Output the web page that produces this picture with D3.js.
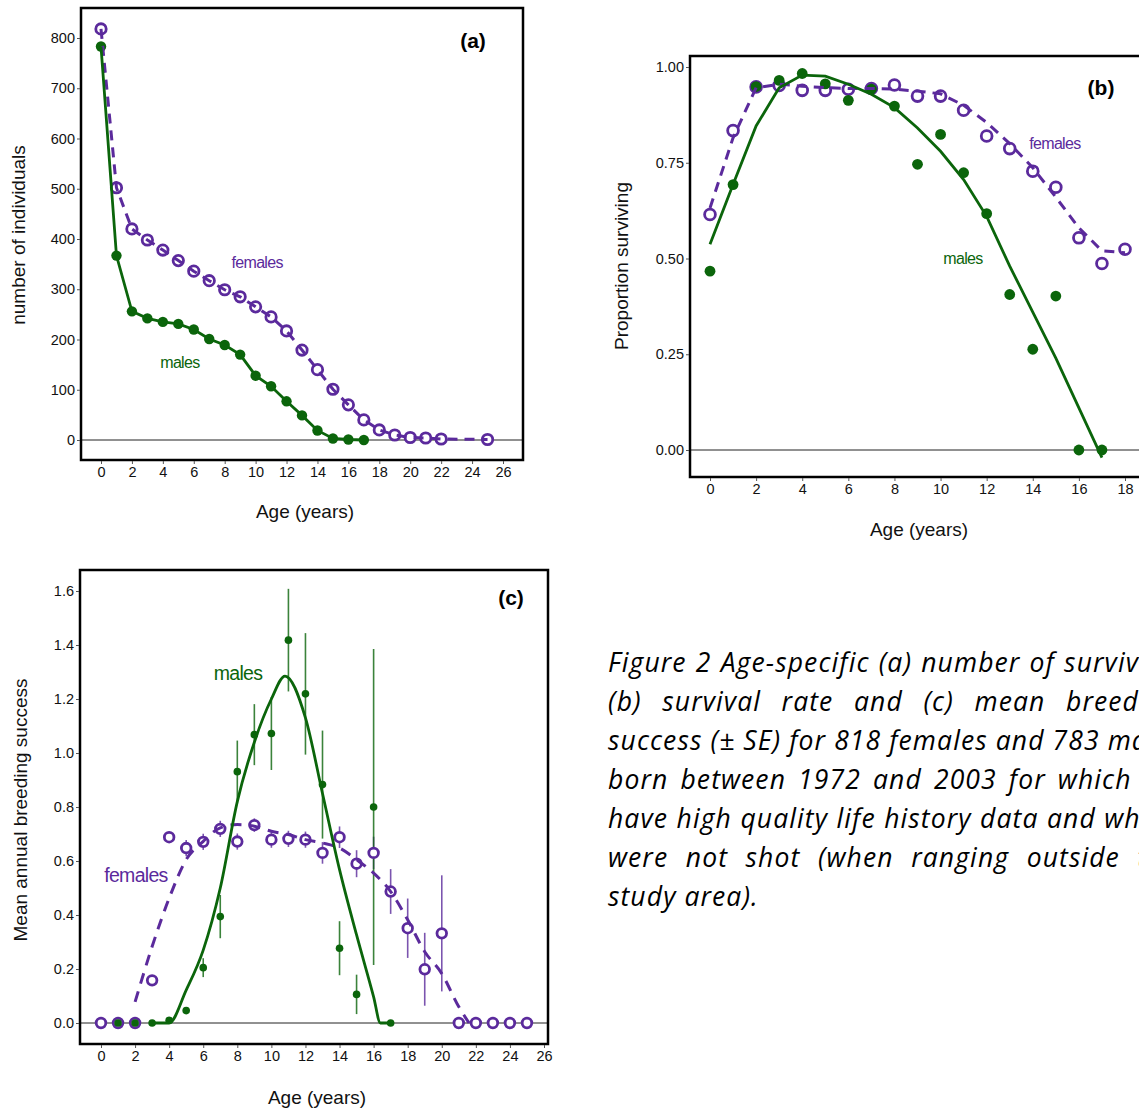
<!DOCTYPE html>
<html lang="en">
<head>
<meta charset="UTF-8">
<title>Age-specific survival and breeding success</title>
<script src="https://cdn.jsdelivr.net/npm/d3@7"></script>
<style>
    html, body { margin: 0; padding: 0; overflow: hidden; background: #fff; }
    #chart { width: 1139px; height: 1110px; overflow: hidden; }
</style>
</head>
<body>
<div id="chart"></div>
<script>
// ---- data ----
// (a) number of individuals alive at each age
const agesFemA = [0,1,2,3,4,5,6,7,8,9,10,11,12,13,14,15,16,17,18,19,20,21,22,25];
const femalesA = [818,502,420,398,378,357,336,317,299,285,265,245,217,179,140,101,70,40,20,10,5,4,2,1];
const agesMalA = [0,1,2,3,4,5,6,7,8,9,10,11,12,13,14,15,16,17];
const malesA   = [783,367,256,242,235,231,220,201,189,170,128,107,77,49,19,3,1,0];

// (b) proportion surviving, points and fitted curves
const agesFemB = [0,1,2,3,4,5,6,7,8,9,10,11,12,13,14,15,16,17,18];
const femalesB = [0.615,0.834,0.948,0.952,0.939,0.939,0.942,0.944,0.953,0.924,0.924,0.887,0.820,0.787,0.728,0.686,0.554,0.487,0.524];
const femFitB  = [0.632,0.815,0.946,0.955,0.950,0.946,0.944,0.944,0.942,0.937,0.930,0.900,0.855,0.800,0.737,0.660,0.580,0.520,0.515];
const agesMalB = [0,1,2,3,4,5,6,7,8,9,10,11,12,13,14,15,16,17];
const malesB   = [0.467,0.693,0.949,0.965,0.983,0.956,0.913,0.942,0.898,0.746,0.824,0.724,0.617,0.406,0.263,0.402,0,0];
const malFitB  = [0.537,0.693,0.846,0.946,0.979,0.976,0.955,0.929,0.894,0.841,0.780,0.706,0.610,0.480,0.360,0.240,0.110,-0.020];

// (c) mean annual breeding success (+- SE) and fitted curves
const agesFemC = [0,1,2,3,4,5,6,7,8,9,10,11,12,13,14,15,16,17,18,19,20,21,22,23,24,25];
const femalesC = [0,0,0,0.158,0.688,0.648,0.671,0.719,0.672,0.733,0.679,0.682,0.679,0.630,0.688,0.590,0.630,0.487,0.351,0.199,0.332,0,0,0,0,0];
const femSeC   = [0,0,0,0.02,0.02,0.03,0.03,0.03,0.03,0.025,0.03,0.03,0.03,0.04,0.04,0.05,0.06,0.083,0.11,0.135,0.215,0,0,0,0,0];
const agesMalC = [1,2,3,4,5,6,7,8,9,10,11,12,13,14,15,16,17];
const malesC   = [0,0,0,0.01,0.046,0.205,0.394,0.931,1.068,1.072,1.418,1.219,0.883,0.277,0.106,0.8,0];
const malSeC   = [0,0,0,0,0.01,0.035,0.08,0.115,0.113,0.135,0.19,0.225,0.2,0.1,0.073,0.585,0];
const femFitAgesC = [2,3,4,5,6,7,8,9,10,11,12,13,14,15,16,17,18,19,20,21,21.6];
const femFitC     = [0.078,0.283,0.462,0.605,0.673,0.723,0.735,0.729,0.710,0.698,0.679,0.667,0.648,0.605,0.555,0.487,0.382,0.264,0.183,0.060,0];
const malFitAgesC = [3,4,5,6,7,8,9,10,10.8,12,13,14,15,16,16.4,17];
const malFitC     = [0,0,0.122,0.27,0.5,0.82,1.04,1.2,1.285,1.13,0.85,0.568,0.326,0.097,0,0];

const captionLines = [
    "Figure 2 Age-specific (a) number of surviving",
    "(b) survival rate and (c) mean breeding",
    "success (\u00b1 SE) for 818 females and 783 males",
    "born between 1972 and 2003 for which we",
    "have high quality life history data and which",
    "were not shot (when ranging outside the",
    "study area)."
];

const purple = "#5b2a9c";
const green = "#0b650b";
const axisFont = "'Liberation Sans', Arial, sans-serif";

const svg = d3.select("#chart").append("svg")
    .attr("width", 1139).attr("height", 1110);

function zip(a, b) { return a.map((d, i) => [d, b[i]]); }

function panel(cfg) {
    const g = svg.append("g");
    const f = cfg.frame;
    const x = d3.scaleLinear().domain(cfg.xDom).range(cfg.xRange);
    const y = d3.scaleLinear().domain(cfg.yDom).range(cfg.yRange);

    // zero reference line
    g.append("line")
        .attr("x1", f.l).attr("x2", f.r)
        .attr("y1", y(0)).attr("y2", y(0))
        .attr("stroke", "#222").attr("stroke-width", 1);

    // error bars
    (cfg.bars || []).forEach(s => {
        g.selectAll(null).data(s.data.filter(d => d[2] > 0)).join("line")
            .attr("x1", d => x(d[0])).attr("x2", d => x(d[0]))
            .attr("y1", d => y(d[1] - d[2])).attr("y2", d => y(d[1] + d[2]))
            .attr("stroke", s.color).attr("stroke-width", 1.6).attr("opacity", 0.8);
    });

    // points
    cfg.points.forEach(s => {
        g.selectAll(null).data(s.data).join("circle")
            .attr("cx", d => x(d[0])).attr("cy", d => y(d[1]))
            .attr("r", s.r)
            .attr("fill", s.open ? "#fff" : s.color)
            .attr("stroke", s.color)
            .attr("stroke-width", s.open ? 2.8 : 0);
    });

    // lines
    cfg.lines.forEach(s => {
        const line = d3.line().x(d => x(d[0])).y(d => y(d[1])).curve(s.curve || d3.curveLinear);
        g.append("path").datum(s.data)
            .attr("d", line)
            .attr("fill", "none")
            .attr("stroke", s.color)
            .attr("stroke-width", s.width || 2.8)
            .attr("stroke-dasharray", s.dash || null);
    });

    // frame
    g.append("rect")
        .attr("x", f.l).attr("y", f.t)
        .attr("width", f.r - f.l).attr("height", f.b - f.t)
        .attr("fill", "none").attr("stroke", "#000").attr("stroke-width", 2.5);

    // axes
    const ay = g.append("g").attr("transform", `translate(${f.l - 1},0)`)
        .call(d3.axisLeft(y).tickValues(cfg.yTicks).tickSize(3).tickPadding(2).tickFormat(cfg.yFmt));
    const ax = g.append("g").attr("transform", `translate(0,${f.b + 1})`)
        .call(d3.axisBottom(x).tickValues(cfg.xTicks).tickSize(3).tickPadding(3));
    [ax, ay].forEach(a => {
        a.attr("font-family", axisFont).attr("font-size", 14.5);
        a.select(".domain").remove();
        a.selectAll(".tick line").attr("stroke", "#555");
        a.selectAll(".tick text").attr("fill", "#111");
    });

    // axis titles
    g.append("text")
        .attr("x", cfg.xTitle[0]).attr("y", cfg.xTitle[1])
        .attr("text-anchor", "middle")
        .attr("font-family", axisFont).attr("font-size", 19).attr("fill", "#111")
        .text("Age (years)");
    g.append("text")
        .attr("transform", `translate(${cfg.yTitle[0]},${cfg.yTitle[1]}) rotate(-90)`)
        .attr("text-anchor", "middle")
        .attr("font-family", axisFont).attr("font-size", 19).attr("fill", "#111")
        .text(cfg.yLabel);

    // panel letter
    g.append("text")
        .attr("x", cfg.tag[0]).attr("y", cfg.tag[1])
        .attr("text-anchor", "middle").attr("dominant-baseline", "central")
        .attr("font-family", axisFont).attr("font-size", 21).attr("font-weight", "bold")
        .text(cfg.tagText);

    // series labels
    cfg.labels.forEach(l => {
        g.append("text")
            .attr("x", x(l.at[0])).attr("y", y(l.at[1]))
            .attr("text-anchor", "middle").attr("dominant-baseline", "central")
            .attr("font-family", axisFont).attr("font-size", l.size)
            .attr("letter-spacing", -0.7)
            .attr("fill", l.color)
            .text(l.text);
    });
}

// (a)
panel({
    frame: {l: 81, t: 8, r: 523, b: 460},
    xDom: [0, 26], xRange: [101, 503],
    yDom: [0, 800], yRange: [440, 38],
    xTicks: d3.range(0, 27, 2), yTicks: d3.range(0, 801, 100), yFmt: d3.format("d"),
    xTitle: [305, 518], yTitle: [25, 235], yLabel: "number of individuals",
    tag: [473, 40], tagText: "(a)",
    points: [
        {data: zip(agesFemA, femalesA), color: purple, open: true, r: 5.2},
        {data: zip(agesMalA, malesA), color: green, open: false, r: 5.2}
    ],
    lines: [
        {data: zip(agesFemA, femalesA), color: purple, dash: "10,7", width: 3},
        {data: zip(agesMalA, malesA), color: green}
    ],
    labels: [
        {text: "females", at: [10.1, 354], color: purple, size: 16},
        {text: "males", at: [5.1, 155], color: green, size: 16}
    ]
});

// (b)
panel({
    frame: {l: 690, t: 56, r: 1150, b: 477},
    xDom: [0, 18], xRange: [710, 1125],
    yDom: [0, 1], yRange: [450, 67],
    xTicks: d3.range(0, 19, 2), yTicks: [0, 0.25, 0.5, 0.75, 1], yFmt: d3.format(".2f"),
    xTitle: [919, 536], yTitle: [628, 266], yLabel: "Proportion surviving",
    tag: [1101, 87], tagText: "(b)",
    points: [
        {data: zip(agesFemB, femalesB), color: purple, open: true, r: 5.4},
        {data: zip(agesMalB, malesB), color: green, open: false, r: 5.4}
    ],
    lines: [
        {data: zip(agesFemB, femFitB), color: purple, dash: "10,7", width: 3},
        {data: zip(agesMalB, malFitB), color: green}
    ],
    labels: [
        {text: "females", at: [14.96, 0.80], color: purple, size: 16},
        {text: "males", at: [10.97, 0.501], color: green, size: 16}
    ]
});

// (c)
panel({
    frame: {l: 80, t: 570, r: 548, b: 1044},
    xDom: [0, 26], xRange: [101, 544],
    yDom: [0, 1.6], yRange: [1023, 591],
    xTicks: d3.range(0, 27, 2), yTicks: d3.range(0, 1.61, 0.2), yFmt: d3.format(".1f"),
    xTitle: [317, 1104], yTitle: [27, 810], yLabel: "Mean annual breeding success",
    tag: [511, 597], tagText: "(c)",
    bars: [
        {data: agesFemC.map((a, i) => [a, femalesC[i], femSeC[i]]), color: purple},
        {data: agesMalC.map((a, i) => [a, malesC[i], malSeC[i]]), color: green}
    ],
    points: [
        {data: zip(agesFemC, femalesC), color: purple, open: true, r: 4.8},
        {data: zip(agesMalC, malesC), color: green, open: false, r: 3.8}
    ],
    lines: [
        {data: zip(femFitAgesC, femFitC), color: purple, dash: "11,8", width: 3, curve: d3.curveMonotoneX},
        {data: zip(malFitAgesC, malFitC), color: green, curve: d3.curveMonotoneX}
    ],
    labels: [
        {text: "males", at: [8.04, 1.296], color: green, size: 19.5},
        {text: "females", at: [2.05, 0.548], color: purple, size: 19.5}
    ]
});

// caption, justified line by line (runs past the right edge like the source)
const cap = svg.append("g")
    .attr("font-family", "'Open Sans', 'Noto Sans', sans-serif")
    .attr("font-style", "italic").attr("font-size", 26.5)
    .attr("letter-spacing", 1.1).attr("fill", "#000");
const capWidth = 570;
captionLines.forEach((t, i) => {
    const txt = cap.append("text").attr("x", 608).attr("y", 672 + i * 39).text(t);
    if (i < captionLines.length - 1) {
        const natural = txt.node().getComputedTextLength();
        const gaps = t.split(" ").length - 1;
        if (natural < capWidth && gaps > 0) {
            txt.attr("word-spacing", (capWidth - natural) / gaps);
        }
    }
});
</script>
</body>
</html>
